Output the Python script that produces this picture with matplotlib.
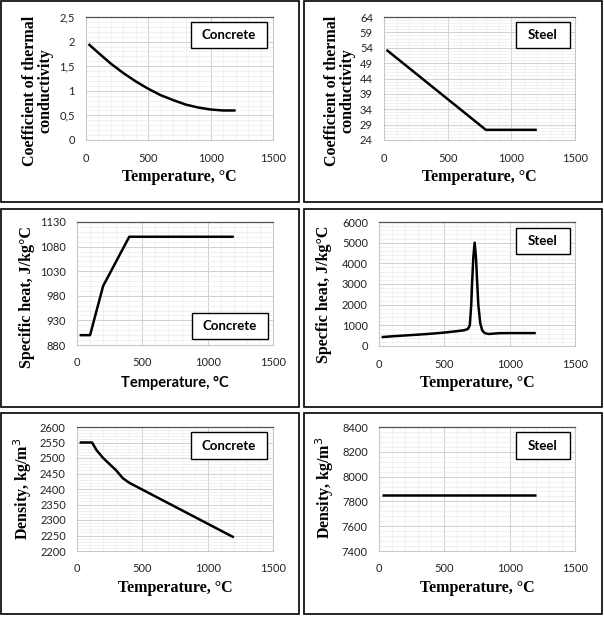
import matplotlib
matplotlib.use("Agg")
import matplotlib.pyplot as plt
from matplotlib.patches import Rectangle
from matplotlib.ticker import FixedLocator, AutoMinorLocator, FuncFormatter

W, H = 604, 617

# data
temp_k_conc = [20, 100, 200, 300, 400, 500, 600, 700, 800, 900, 1000, 1100, 1200]
k_conc = [1.95, 1.77, 1.55, 1.36, 1.19, 1.04, 0.91, 0.81, 0.72, 0.66, 0.62, 0.60, 0.60]

temp_k_steel = [20, 800, 1200]
k_steel = [53.3, 27.3, 27.3]

temp_c_conc = [20, 100, 200, 300, 400, 1200]
c_conc = [900, 900, 1000, 1050, 1100, 1100]

temp_c_steel = [20, 100, 200, 300, 400, 500, 600, 650, 680, 695, 706, 712, 722, 732,
                742, 752, 760, 775, 790, 810, 840, 880, 920, 1000, 1100, 1200]
c_steel = [430, 470, 510, 550, 595, 650, 720, 760, 820, 1000, 2000, 3000, 4300, 5000,
           4300, 3000, 2000, 1100, 750, 620, 580, 600, 620, 625, 625, 625]

temp_d_conc = [20, 115, 150, 200, 250, 300, 350, 400, 1200]
d_conc = [2550, 2550, 2525, 2500, 2480, 2460, 2435, 2420, 2244]

temp_d_steel = [20, 1200]
d_steel = [7850, 7850]

x_ticks = [0, 500, 1000, 1500]

SERIF = "Liberation Serif"
SANS = "Lato"


def frac(l, t, r, b):
    return [l / W, 1 - b / H, (r - l) / W, (b - t) / H]


def comma(v, pos):
    s = "%g" % v
    return s.replace(".", ",")


fig = plt.figure(figsize=(W / 100, H / 100), dpi=100)

# outer panel frames
for (l, t, r, b) in [(1, 1, 299, 202), (304, 1, 602, 202),
                     (1, 209, 299, 407), (304, 209, 602, 407),
                     (1, 413, 299, 614), (304, 413, 602, 614)]:
    fig.add_artist(Rectangle((l / W, 1 - b / H), (r - l) / W, (b - t) / H,
                             transform=fig.transFigure, fill=False,
                             edgecolor="black", lw=1.2))

panels = [
    dict(rect=(86, 17, 273, 140), x=temp_k_conc, y=k_conc, yt=[0, 0.5, 1, 1.5, 2, 2.5],
         ylabel="Coefficient of thermal\nconductivity", ylab_pos=(37.5, 91), ylab_size=11.5,
         xlab_y=177, xlab_sans=False, tag="Concrete", box=(191, 22, 267, 48)),
    dict(rect=(384, 17, 575, 140), x=temp_k_steel, y=k_steel, yt=list(range(24, 65, 5)),
         ylabel="Coefficient of thermal\nconductivity", ylab_pos=(340, 91), ylab_size=11.5,
         xlab_y=177, xlab_sans=False, tag="Steel", box=(516, 22, 570, 48)),
    dict(rect=(77, 222, 273, 345), x=temp_c_conc, y=c_conc, yt=list(range(880, 1131, 50)),
         ylabel="Specific heat, J/kg°C", ylab_pos=(27, 297), ylab_size=11.5,
         xlab_y=383, xlab_sans=True, tag="Concrete", box=(192, 313, 268, 339)),
    dict(rect=(379, 222, 575, 346), x=temp_c_steel, y=c_steel, yt=list(range(0, 6001, 1000)),
         ylabel="Specfic heat, J/kg°C", ylab_pos=(324, 294), ylab_size=11.5,
         xlab_y=383, xlab_sans=False, tag="Steel", box=(516, 228, 570, 254)),
    dict(rect=(77, 427, 273, 551), x=temp_d_conc, y=d_conc, yt=list(range(2200, 2601, 50)),
         ylabel="Density, kg/m$^3$", ylab_pos=(23, 489), ylab_size=11.5,
         xlab_y=588, xlab_sans=False, tag="Concrete", box=(191, 432, 267, 459)),
    dict(rect=(379, 427, 575, 551), x=temp_d_steel, y=d_steel, yt=list(range(7400, 8401, 200)),
         ylabel="Density, kg/m$^3$", ylab_pos=(325, 488), ylab_size=11.5,
         xlab_y=588, xlab_sans=False, tag="Steel", box=(516, 432, 570, 459)),
]

for p in panels:
    l, t, r, b = p["rect"]
    ax = fig.add_axes(frac(l, t, r, b))
    ax.plot(p["x"], p["y"], color="black", lw=1.8, solid_capstyle="butt",
            solid_joinstyle="round", zorder=3)
    ax.set_xlim(0, 1500)
    ax.set_ylim(p["yt"][0], p["yt"][-1])
    ax.xaxis.set_major_locator(FixedLocator(x_ticks))
    ax.yaxis.set_major_locator(FixedLocator(p["yt"]))
    ax.xaxis.set_minor_locator(AutoMinorLocator(5))
    ax.yaxis.set_minor_locator(AutoMinorLocator(5))
    ax.yaxis.set_major_formatter(FuncFormatter(comma))
    ax.grid(which="major", color="#d0d0d0", lw=0.7)
    ax.grid(which="minor", color="#ececec", lw=0.5)
    ax.set_axisbelow(True)
    ax.tick_params(which="both", length=0)
    ax.tick_params(axis="x", pad=9, labelsize=8)
    ax.tick_params(axis="y", pad=8, labelsize=8)
    for lab in ax.get_xticklabels() + ax.get_yticklabels():
        lab.set_fontfamily(SANS)
        lab.set_color("#222222")
    for side in ["left", "bottom", "right"]:
        ax.spines[side].set_color("#c8c8c8")
        ax.spines[side].set_linewidth(0.8)
    ax.spines["top"].set_color("#505050")
    ax.spines["top"].set_linewidth(0.9)

    # axis titles
    xc = (l + r) / 2
    if p["xlab_sans"]:
        fig.text(xc / W, 1 - p["xlab_y"] / H, "Temperature, °C", family=SANS,
                 weight="bold", fontsize=10.5, ha="center", va="center")
    else:
        fig.text(xc / W, 1 - p["xlab_y"] / H, "Temperature, °C", family=SERIF,
                 weight="bold", fontsize=11.5, ha="center", va="center")
    yx, yy = p["ylab_pos"]
    fig.text(yx / W, 1 - yy / H, p["ylabel"], family=SERIF, weight="bold",
             fontsize=p["ylab_size"], rotation=90, ha="center", va="center",
             multialignment="center", linespacing=1.0)

    # material tag box
    bl, bt, br, bb = p["box"]
    fig.add_artist(Rectangle((bl / W, 1 - bb / H), (br - bl) / W, (bb - bt) / H,
                             transform=fig.transFigure, facecolor="white",
                             edgecolor="black", lw=1.0, zorder=5))
    fig.text((bl + br) / 2 / W, 1 - (bt + bb) / 2 / H, p["tag"], family=SANS,
             weight="bold", fontsize=9.5, ha="center", va="center", zorder=6)

fig.savefig("out.png", dpi=100)
